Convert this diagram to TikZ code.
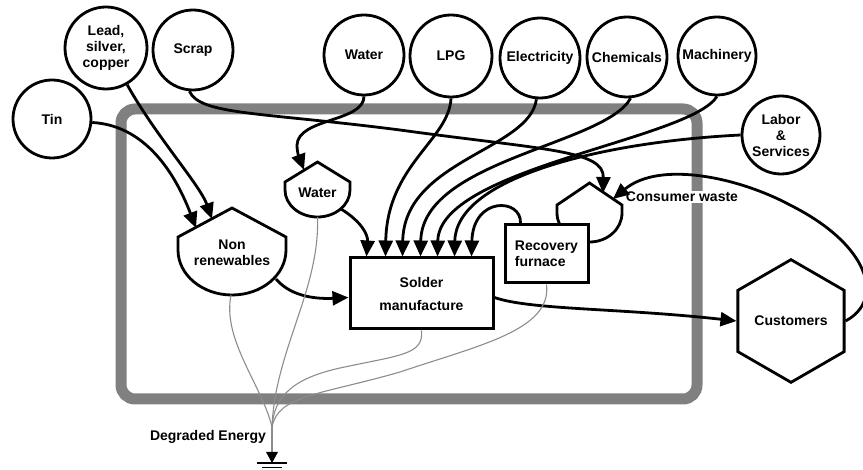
\documentclass[tikz,border=0pt]{standalone}
\usepackage{fontspec}
\setmainfont{Liberation Sans}
\usetikzlibrary{arrows.meta,shapes.geometric,calc}
\begin{document}
\begin{tikzpicture}[x=1pt,y=-1pt,
  every node/.style={font=\fontsize{14}{16}\selectfont\bfseries, align=center, inner sep=1pt},
  src/.style={draw, circle, line width=2.8pt, minimum size=80pt},
  flow/.style={line width=2.8pt, -{Triangle[length=16pt,width=14pt]}},
  heat/.style={line width=1.1pt, draw=black!45},
  sysbox/.style={line width=11pt, draw=black!50, rounded corners=14pt},
  tankshape/.style={draw, line width=2.8pt, fill=white, line join=miter},
  procbox/.style={draw, line width=3pt, fill=white, rectangle}
]
\useasboundingbox (0,0) rectangle (863,470);

% system boundary
\draw[sysbox] (121,109) rectangle (697,399);

% sources
\node[src, minimum size=78pt] (tin) at (52,119) {Tin};
\node[src, minimum size=82pt] (lead) at (106,48) {Lead,\\silver,\\copper};
\node[src] (scrap) at (193,50) {Scrap};
\node[src] (water) at (364,55) {Water};
\node[src, minimum size=82pt] (lpg) at (451,56) {LPG};
\node[src] (elec) at (540,58) {Electricity};
\node[src] (chem) at (627,57) {Chemicals};
\node[src, minimum size=78pt] (mach) at (717,56) {Machinery};
\node[src, minimum size=78pt] (labor) at (781,135) {Labor\\\&\\Services};

% storage tanks
\draw[tankshape] (178,237) -- (232,208) -- (286,237) -- (286,250)
  .. controls (286,274.9) and (261.8,295) .. (232,295)
  .. controls (202.2,295) and (178,274.9) .. (178,250) -- cycle;
\node (nonren) at (232,253) {Non\\renewables};
\draw[tankshape] (285,182) -- (317.5,162) -- (350,182) -- (350,190)
  .. controls (350,204.9) and (335.4,217) .. (317.5,217)
  .. controls (299.6,217) and (285,204.9) .. (285,190) -- cycle;
\node (wtank) at (317.5,193) {Water};
\draw[tankshape] (557,205) -- (589.5,183) -- (622,205) -- (622,213)
  .. controls (622,229) and (607.4,242) .. (589.5,242)
  .. controls (571.6,242) and (557,229) .. (557,213) -- cycle;
\node[fill=white, inner sep=1.5pt] (cwlabel) at (682,197) {Consumer waste};

% tank connection points
\coordinate (nrA) at (196,228);
\coordinate (nrB) at (212,219);
\coordinate (nrOut) at (276,279);
\coordinate (nrBot) at (231,295);
\coordinate (wtIn) at (304,170);
\coordinate (wtOut) at (341,209);
\coordinate (wtBot) at (317.5,217);
\coordinate (cwA) at (603,193);
\coordinate (cwB) at (613,199);

% processes
\node[procbox, minimum width=143pt, minimum height=71pt] (solder) at (421.5,293.5) {Solder\\[7pt]manufacture};
\node[procbox, minimum width=83pt, minimum height=58pt, align=left] (furnace) at (546.5,254) {Recovery\\furnace};
\node[draw, line width=2.8pt, regular polygon, regular polygon sides=6, shape border rotate=30, minimum size=108pt] (cust) at (791,321) {Customers};

% inflows to non renewables
\draw[flow] (tin.-5) .. controls (140,125) and (172,165) .. (nrA);
\draw[flow] (lead.-60) .. controls (155,135) and (200,185) .. (nrB);

% scrap to consumer waste
\draw[flow] (scrap.-95) .. controls (200,115) and (260,112) .. (400,130)
  .. controls (545,150) and (604,150) .. (cwA);

% water
\draw[flow] (water.south) .. controls (364,122) and (298,118) .. (297,145)
  .. controls (297,155) and (301,162) .. (wtIn);
\draw[flow] (wtOut) .. controls (362,222) and (368,235) .. ([xshift=18pt]solder.north west);

% energy and material inputs
\draw[flow] (lpg.south) .. controls (449,140) and (387,165) .. ([xshift=37pt]solder.north west);
\draw[flow] (elec.-95) .. controls (530,150) and (404,160) .. ([xshift=54pt]solder.north west);
\draw[flow] (chem.-85) .. controls (605,145) and (422,160) .. ([xshift=72pt]solder.north west);
\draw[flow] (mach.south) .. controls (690,140) and (439,168) .. ([xshift=89pt]solder.north west);
\draw[flow] (labor.west) .. controls (600,142) and (456,178) .. ([xshift=106pt]solder.north west);
\draw[flow] ([xshift=17pt]furnace.north west) .. controls (522,198) and (473,196) .. ([xshift=123pt]solder.north west);

% main flows
\draw[flow] (nrOut) .. controls (292,298) and (320,299) .. ([yshift=-4pt]solder.west);
\draw[flow] ([yshift=-4pt]solder.east) .. controls (530,310) and (620,308) .. (cust.west);
\draw[flow] (cust.east) .. controls (885,300) and (870,245) .. (790,205)
  .. controls (740,178) and (660,160) .. (cwB);

% degraded energy
\coordinate (sink) at (272,427);
\draw[heat] (nrBot) .. controls (222,340) and (262,385) .. (sink);
\draw[heat] (wtBot) .. controls (320,290) and (275,350) .. (sink);
\draw[heat] (solder.south) .. controls (424,355) and (400,355) .. (340,368)
  .. controls (295,378) and (274,395) .. (sink);
\draw[heat] (furnace.south) .. controls (552,330) and (480,345) .. (400,372)
  .. controls (320,395) and (278,395) .. (sink);
\coordinate (gnd) at (272,452);
\draw[heat] (sink) -- (gnd);
\fill (266,452) -- (278,452) -- (272,463) -- cycle;
\draw[line width=1.3pt] (257,463) -- (287,463);
\draw[line width=1.3pt] (262,467.5) -- (282,467.5);
\node (deg) at (208,437) {Degraded Energy};
\end{tikzpicture}
\end{document}
